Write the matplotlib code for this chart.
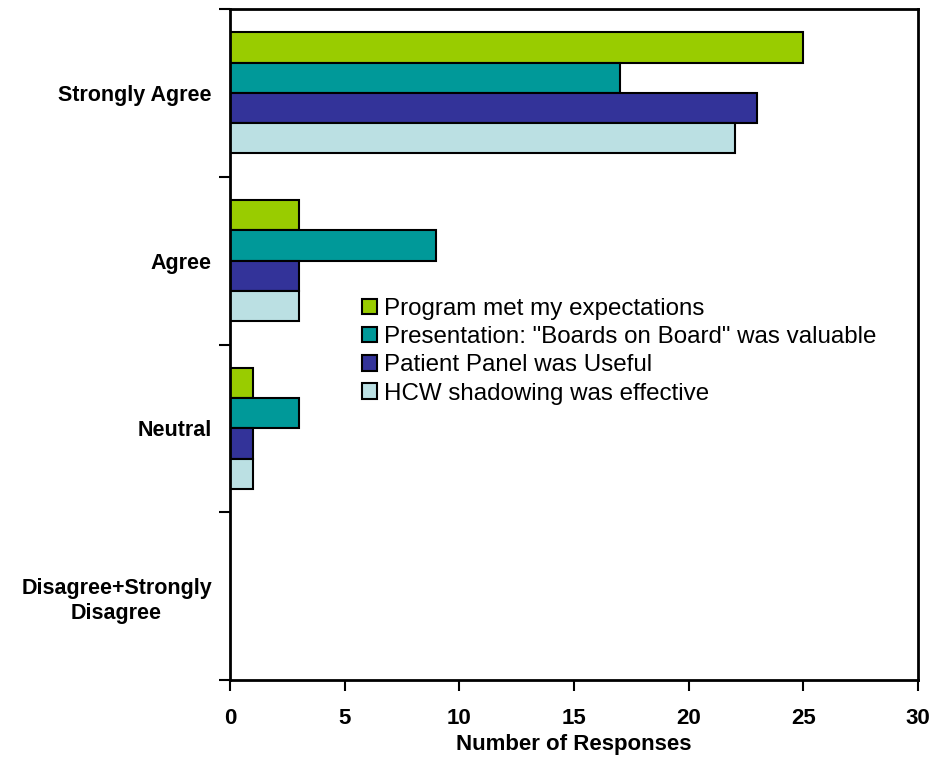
import numpy as np
from matplotlib import pyplot as plt

categories = ['Strongly Agree', 'Agree', 'Neutral', 'Disagree+Strongly\nDisagree']
series_names = ['Program met my expectations',
                'Presentation: "Boards on Board" was valuable',
                'Patient Panel was Useful',
                'HCW shadowing was effective']
expectations = [25, 3, 1, 0]
boards = [17, 9, 3, 0]
panel = [23, 3, 1, 0]
shadowing = [22, 3, 1, 0]
colors = ['#99CC00', '#009999', '#333399', '#BBE0E3']

plt.rcParams['font.family'] = ['Liberation Sans', 'DejaVu Sans']

fig = plt.figure(figsize=(9.48, 7.61), dpi=100)
ax = fig.add_axes([0.2426, 0.1064, 0.7258, 0.8818])

y = np.arange(len(categories))
h = 0.18
for i, (vals, name, c) in enumerate(zip([expectations, boards, panel, shadowing], series_names, colors)):
    ax.barh(y + (i - 1.5) * h, vals, height=h, color=c, edgecolor='black', linewidth=1.5, label=name)

ax.set_ylim(3.5, -0.5)
ax.set_xlim(0, 30)
ax.set_yticks(np.arange(-0.5, 4, 1))
ax.set_yticklabels([])
ax.set_yticks(y, minor=True)
ax.set_yticklabels(categories, minor=True, fontsize=15.5, fontweight='bold',
                   multialignment='center', linespacing=1.3)
ax.tick_params(axis='y', which='minor', length=0, pad=13)
ax.tick_params(axis='y', which='major', length=8, width=1.5, direction='out')
ax.set_xticks(range(0, 31, 5))
ax.tick_params(axis='x', length=8, width=1.5, direction='out', labelsize=16, pad=12)
for lbl in ax.get_xticklabels():
    lbl.set_fontweight('bold')
ax.set_xlabel('Number of Responses', fontsize=16, fontweight='bold', labelpad=4)
for s in ax.spines.values():
    s.set_linewidth(2)

ax.legend(loc='upper left', bbox_to_anchor=(0.178, 0.584), frameon=False, fontsize=17.4,
          handlelength=0.6, handleheight=0.6, handletextpad=0.3, labelspacing=0.26, borderaxespad=0)

fig.savefig('out.png', dpi=100)
